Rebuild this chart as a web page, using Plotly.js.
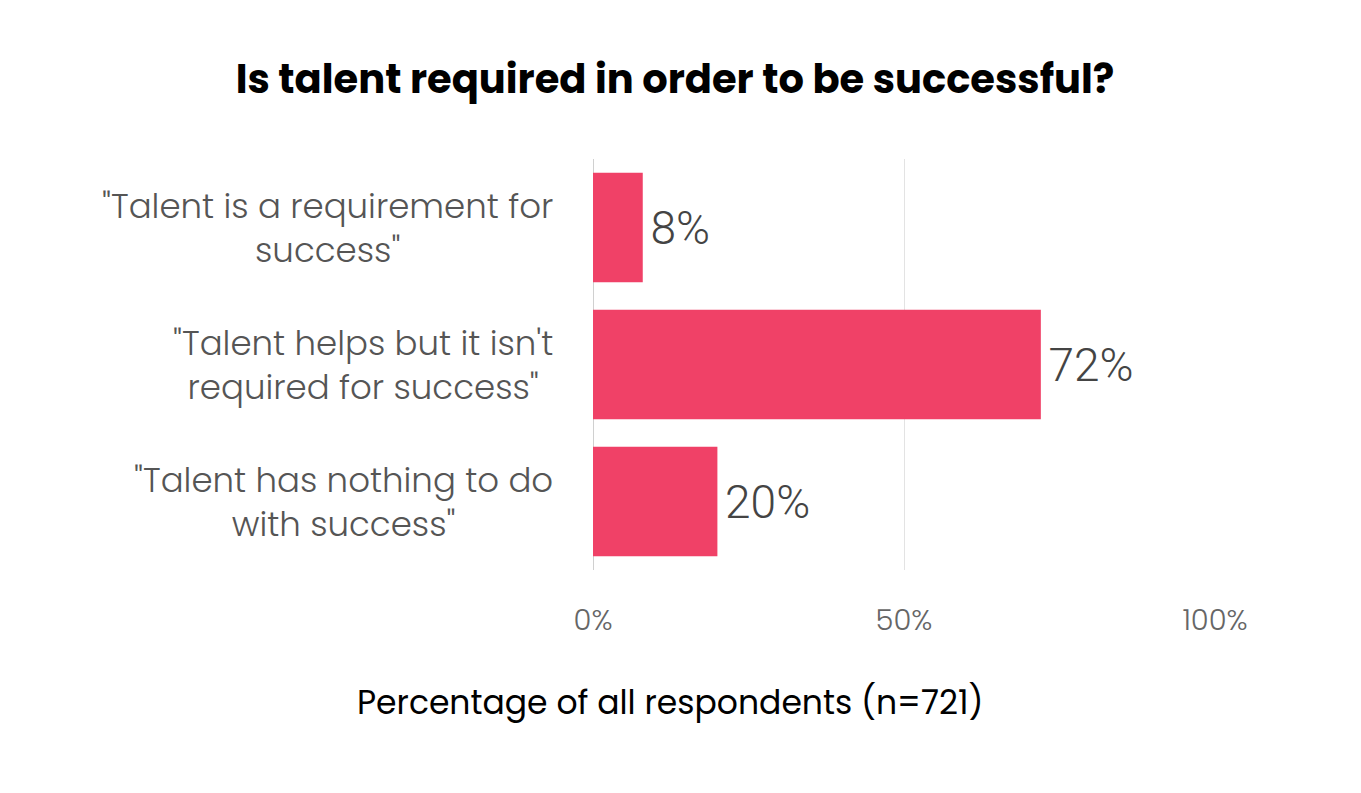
<!DOCTYPE html>
<html>
<head>
<meta charset="utf-8">
<script src="https://cdn.plot.ly/plotly-3.0.1.min.js"></script>
<style>html,body{margin:0;padding:0;background:#fff;}#chart{width:1361px;height:793px;}</style>
</head>
<body>
<div id="chart"></div>
<script>
const categories = [
  '"Talent is a requirement for<br>success"',
  '"Talent helps but it isn\'t<br>required for success"',
  '"Talent has nothing to do<br>with success"'
];
const values = [8, 72, 20];
const valueLabels = ['8%', '72%', '20%'];
const tickVals = [0, 50, 100];
const tickText = ['0%', '50%', '100%'];
const axisTitle = 'Percentage of all respondents (n=721)';
const chartTitle = 'Is talent required in order to be successful?';

const FONT = 'Poppins, "Open Sans", sans-serif';

const catAnnotations = categories.map(c => ({
  text: c,
  xref: 'paper', x: 0, xshift: -38, xanchor: 'right',
  yref: 'y', y: c, yanchor: 'middle',
  align: 'center',
  showarrow: false,
  font: {family: FONT, size: 34, color: '#555555', weight: 300}
}));

Plotly.newPlot('chart', [{
  type: 'bar',
  orientation: 'h',
  x: values,
  y: categories,
  text: valueLabels.map(t => '\u200A' + t),
  textposition: 'outside',
  cliponaxis: false,
  textfont: {family: 'Roboto, sans-serif', size: 46, color: '#444444', weight: 300},
  marker: {color: '#F04167'},
  width: 0.8,
  hoverinfo: 'none'
}], {
  width: 1361,
  height: 793,
  paper_bgcolor: '#ffffff',
  plot_bgcolor: '#ffffff',
  margin: {l: 593, r: 146, t: 159, b: 223},
  showlegend: false,
  title: {
    text: '<b>' + chartTitle + '</b>',
    font: {family: FONT, size: 40, color: '#000000', weight: 700},
    x: 0.496, xanchor: 'center', y: 0.9, yanchor: 'middle'
  },
  xaxis: {
    range: [0, 100],
    tickvals: tickVals,
    ticktext: tickText,
    showgrid: true,
    gridcolor: '#e3e3e3',
    gridwidth: 1,
    zeroline: true,
    zerolinecolor: '#d0d0d0',
    zerolinewidth: 1,
    showline: false,
    ticks: '',
    ticklabelstandoff: 30,
    tickfont: {family: FONT, size: 29, color: '#666666', weight: 300},
    automargin: false,
    fixedrange: true
  },
  yaxis: {
    autorange: 'reversed',
    showgrid: false,
    zeroline: false,
    showline: false,
    ticks: '',
    showticklabels: false,
    fixedrange: true
  },
  annotations: catAnnotations.concat([{
    text: axisTitle,
    xref: 'paper', x: (670 - 593) / 622, xanchor: 'center',
    yref: 'paper', y: (570 - 703) / 412, yanchor: 'middle',
    showarrow: false,
    font: {family: FONT, size: 33, color: '#000000', weight: 400}
  }]),
  bargap: 0.2
}, {displayModeBar: false, staticPlot: true});
</script>
</body>
</html>
